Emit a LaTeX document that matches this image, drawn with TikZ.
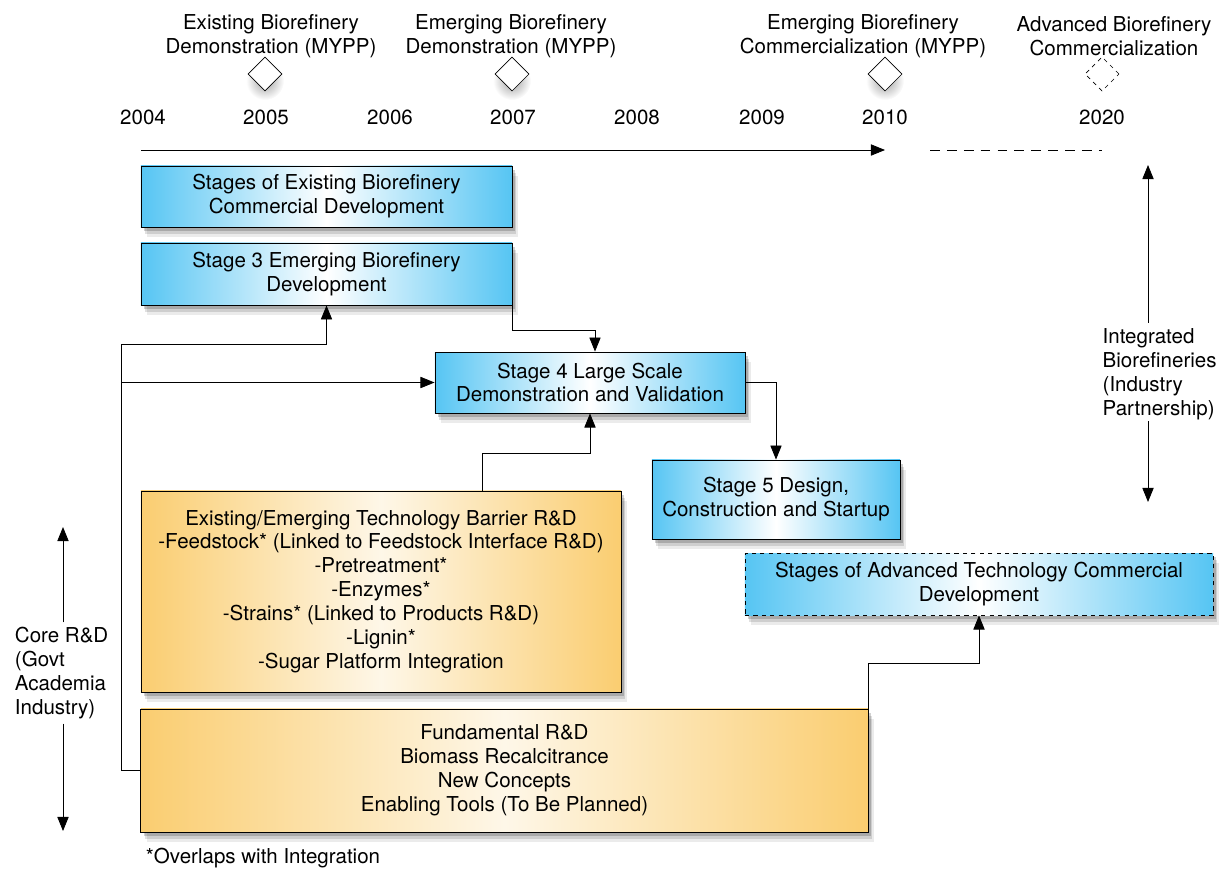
\documentclass[tikz,border=0pt]{standalone}
\usepackage{fontspec}
\setmainfont{TeX Gyre Heros}
\usepackage{tikz}
\usetikzlibrary{shapes.geometric,arrows.meta,shadows,calc}

\begin{document}
\begin{tikzpicture}[x=0.025cm, y=-0.025cm,
        >={Triangle[length=10pt, width=8pt]},
        every node/.style={font=\fontsize{14.6}{17}\selectfont, align=center},
        softshadow/.style={
            drop shadow={shadow xshift=4pt, shadow yshift=-7pt, fill=black, opacity=0.08},
            drop shadow={shadow xshift=3pt, shadow yshift=-5pt, fill=black, opacity=0.12},
            drop shadow={shadow xshift=2pt, shadow yshift=-3pt, fill=black, opacity=0.18}},
        bluebox/.style={draw, semithick, inner sep=0pt, left color=stageblue, right color=stageblue, middle color=white, softshadow},
        orangebox/.style={draw, semithick, inner sep=0pt, left color=rdorange, right color=rdorange, middle color=rdcream, softshadow},
        milestone/.style={draw, fill=white, diamond, minimum size=0.85cm, inner sep=0pt},
        wire/.style={semithick}]
        \definecolor{stageblue}{RGB}{86,197,243}
        \definecolor{rdorange}{RGB}{250,205,112}
        \definecolor{rdcream}{RGB}{254,247,232}
        \useasboundingbox (0,0) rectangle (1222,869);
        % years along the top
        \foreach \yr/\x in {2004/143,2005/266,2006/390,2007/513,2008/637,2009/762,2010/885,2020/1102}
            \node (yr\yr) at (\x,117) {\yr};
        % milestones
        \foreach \x in {265,512,885}
            \shade[inner color=gray!75, outer color=white] (\x,81) circle (19);
        \node[milestone] (msa) at (265,74) {};
        \node[milestone] (msb) at (512,74) {};
        \node[milestone] (msc) at (885,74) {};
        \node[milestone, dashed, fill=none] (msd) at (1102,74) {};
        \node (txa) at (271,36) {Existing Biorefinery\\Demonstration (MYPP)};
        \node (txb) at (511,36) {Emerging Biorefinery\\Demonstration (MYPP)};
        \node (txc) at (863,36) {Emerging Biorefinery\\Commercialization (MYPP)};
        \node (txd) at (1114,36) {Advanced Biorefinery\\Commercialization};
        % time line
        \coordinate (tlstart) at (141,150);
        \coordinate (tlend) at (885,150);
        \draw[wire, ->] (tlstart) -- (tlend);
        \draw[wire, dashed, dash pattern=on 7pt off 5pt] (930,150) -- (1102,150);
        % stage boxes
        \node[bluebox, minimum width=9.275cm, minimum height=1.525cm] (existing) at (326.5,196.5)
            {Stages of Existing Biorefinery\\Commercial Development};
        \node[bluebox, minimum width=9.275cm, minimum height=1.55cm] (stagethree) at (326.5,274)
            {Stage 3 Emerging Biorefinery\\Development};
        \node[bluebox, minimum width=7.75cm, minimum height=1.525cm] (stagefour) at (590,382.5)
            {Stage 4 Large Scale\\Demonstration and Validation};
        \node[bluebox, minimum width=6.2cm, minimum height=1.975cm] (stagefive) at (776,499.5)
            {Stage 5 Design,\\Construction and Startup};
        \node[bluebox, dashed, minimum width=11.7cm, minimum height=1.55cm] (advanced) at (979,584)
            {Stages of Advanced Technology Commercial\\Development};
        % R&D boxes
        \node[orangebox, minimum width=12cm, minimum height=5.025cm] (barrier) at (381,591.5)
            {Existing/Emerging Technology Barrier R\&D\\-Feedstock* (Linked to Feedstock Interface R\&D)\\-Pretreatment*\\-Enzymes*\\-Strains* (Linked to Products R\&D)\\-Lignin*\\-Sugar Platform Integration};
        \node[orangebox, minimum width=18.175cm, minimum height=3.075cm] (fundamental) at (504.5,770.5)
            {Fundamental R\&D\\Biomass Recalcitrance\\New Concepts\\Enabling Tools (To Be Planned)};
        \node[anchor=west] (overlaps) at (141,858) {*Overlaps with Integration};
        % connectors
        \coordinate (rail) at (121,344);
        \draw[wire, ->] (fundamental.west) -| (rail) -| (stagethree.south);
        \draw[wire, ->] (rail |- stagefour.west) -- (stagefour.west);
        \draw[wire, ->] (stagethree.south east) -- ++(0,25) -| ([xshift=0.125cm]stagefour.north);
        \draw[wire, ->] ([xshift=2.525cm]barrier.north) -- ++(0,-37) -| (stagefour.south);
        \draw[wire, ->] (stagefour.east) -| (stagefive.north);
        \draw[wire, ->] (fundamental.north east) -- ++(0,-45) -| (advanced.south);
        % side labels
        \node[anchor=west, align=left, inner sep=1pt] (integrated) at (1101,374)
            {Integrated\\Biorefineries\\(Industry\\Partnership)};
        \coordinate (itop) at (1148,165);
        \coordinate (ibot) at (1148,502);
        \draw[wire, ->] ([yshift=3pt]integrated.north -| itop) -- (itop);
        \draw[wire, ->] (integrated.south -| ibot) -- (ibot);
        \node[anchor=west, align=left] (core) at (10,673)
            {Core R\&D\\(Govt\\Academia\\Industry)};
        \coordinate (ctop) at (63,527);
        \coordinate (cbot) at (63,831);
        \draw[wire, ->] (core.north -| ctop) -- (ctop);
        \draw[wire, ->] (core.south -| cbot) -- (cbot);
    \end{tikzpicture}
\end{document}
